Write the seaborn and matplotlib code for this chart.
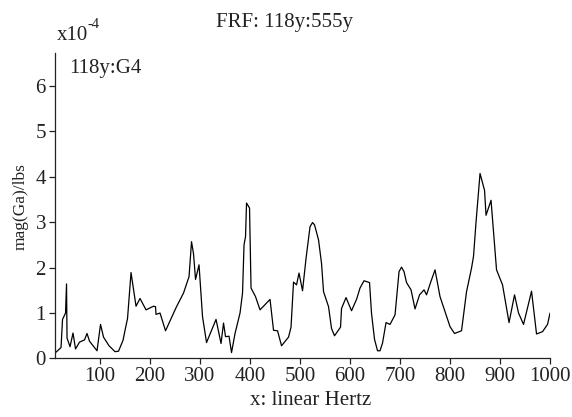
import matplotlib
import pandas as pd
import seaborn as sns

matplotlib.use("Agg")
import matplotlib.pyplot as plt


# values (magnitude in units of 1e-4)
freq_hz = [
    10, 22, 25, 31, 33, 34, 40, 46, 51, 59, 69, 74, 79, 94, 101, 107, 118, 130,
    137, 146, 150, 155, 162, 172, 180, 192, 207, 211, 212, 220, 231, 253, 267,
    278, 283, 287, 291, 298, 305, 313, 332, 342, 347, 351, 358, 363, 370, 380,
    385, 388, 391, 393, 399, 402, 411, 420, 440, 447, 455, 463, 477, 482, 487,
    493, 498, 505, 512, 520, 525, 529, 537, 543, 547, 557, 563, 569, 581, 583,
    592, 603, 613, 620, 628, 639, 643, 649, 655, 660, 665, 672, 680, 690, 698,
    703, 708, 713, 722, 730, 739, 748, 753, 761, 770, 780, 790, 800, 809, 823,
    833, 843, 847, 852, 860, 869, 872, 882, 893, 905, 918, 929, 937, 947, 963,
    973, 985, 995, 1000,
]
mag_e4 = [
    0.12, 0.24, 0.86, 1.0, 1.64, 0.45, 0.26, 0.56, 0.21, 0.36, 0.41, 0.55, 0.38,
    0.17, 0.75, 0.47, 0.28, 0.15, 0.16, 0.40, 0.62, 0.88, 1.89, 1.15, 1.32, 1.07,
    1.15, 1.14, 0.97, 1.0, 0.61, 1.14, 1.44, 1.80, 2.57, 2.30, 1.74, 2.06, 0.92,
    0.35, 0.86, 0.33, 0.78, 0.48, 0.49, 0.13, 0.55, 1.0, 1.44, 2.5, 2.68, 3.42,
    3.31, 1.55, 1.36, 1.07, 1.30, 0.62, 0.61, 0.28, 0.47, 0.69, 1.68, 1.62, 1.88,
    1.49, 2.2, 2.90, 2.99, 2.94, 2.61, 2.09, 1.47, 1.14, 0.66, 0.50, 0.69, 1.10,
    1.34, 1.05, 1.30, 1.55, 1.71, 1.67, 0.99, 0.42, 0.17, 0.17, 0.34, 0.79, 0.75,
    0.96, 1.91, 2.01, 1.91, 1.67, 1.51, 1.09, 1.40, 1.51, 1.40, 1.67, 1.95, 1.36,
    1.03, 0.70, 0.55, 0.61, 1.47, 1.99, 2.25, 3.0, 4.07, 3.7, 3.15, 3.48, 1.95,
    1.62, 0.79, 1.40, 1.0, 0.75, 1.48, 0.54, 0.59, 0.75, 1.0,
]
x_ticks = [100, 200, 300, 400, 500, 600, 700, 800, 900, 1000]
y_ticks = [0, 1, 2, 3, 4, 5, 6]

sns.set_theme(style="ticks")
plt.rcParams["font.family"] = ["Liberation Serif", "DejaVu Serif"]

df = pd.DataFrame({"freq": freq_hz, "mag": mag_e4})

fig = plt.figure(figsize=(5.72, 4.17), dpi=100)
ax = fig.add_axes([0.0962, 0.1403, 0.8654, 0.7326])

sns.lineplot(data=df, x="freq", y="mag", ax=ax, color="black", linewidth=0.9, sort=False)

ax.set_xlim(10, 1000)
ax.set_ylim(0, 6.72)
ax.set_xticks(x_ticks)
ax.set_yticks(y_ticks)
ax.set_xticklabels([str(t) for t in x_ticks])
ax.set_yticklabels([str(t) for t in y_ticks])
ax.tick_params(axis="both", labelsize=15, length=4.5, width=0.9, pad=2, colors="#222222")
ax.tick_params(axis="x", pad=1.5)

sns.despine(ax=ax)
for side in ["left", "bottom"]:
    ax.spines[side].set_linewidth(0.9)
    ax.spines[side].set_color("#222222")

ax.set_xlabel("")
ax.set_ylabel("")

ax.text(0.029, 0.935, "118y:G4", transform=ax.transAxes, fontsize=15,
        va="baseline", ha="left", color="#222222")

fig.text(0.497, 0.936, "FRF: 118y:555y", fontsize=15, ha="center", va="baseline", color="#222222")
fig.text(0.543, 0.029, "x: linear Hertz", fontsize=15, ha="center", va="baseline", color="#222222")
fig.text(0.036, 0.505, "mag(Ga)/lbs", fontsize=12.5, rotation=90, ha="center", va="center",
         color="#222222")
# exponent label: plain text with a small raised "-4"
fig.text(0.099, 0.904, "x10", fontsize=15, ha="left", va="baseline", color="#222222")
fig.text(0.153, 0.932, "-4", fontsize=10.5, ha="left", va="baseline", color="#222222")

fig.savefig("out.png", dpi=100)
plt.close(fig)
